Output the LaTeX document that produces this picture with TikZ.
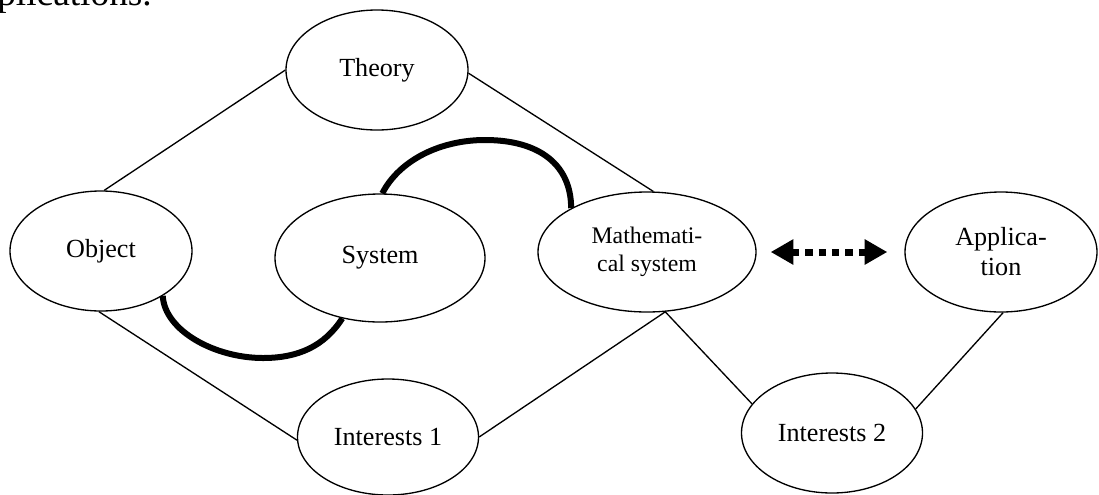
\documentclass[tikz,border=0pt]{standalone}
\usepackage{fontspec}
\setmainfont{Liberation Serif}
\usetikzlibrary{shapes.geometric,arrows.meta}
\newcommand{\ovalfont}{\fontsize{19.6pt}{22.5pt}\selectfont}
\newcommand{\mathsysfont}{\fontsize{17.8pt}{21pt}\selectfont}
\newcommand{\headfont}{\fontsize{28pt}{33pt}\selectfont}

\begin{document}
\begin{tikzpicture}[x=0.75pt, y=-0.75pt,
    oval/.style={ellipse, draw, line width=1pt, inner sep=0pt, align=center, font=\ovalfont},
    link/.style={line width=1pt},
    bond/.style={line width=4.5pt},
    pair/.style={line width=5.25pt, dash pattern=on 5.5pt off 4.5pt,
        >={Triangle[length=17pt,width=18pt]}, <->}]
    \useasboundingbox (0,0) rectangle (1099,494);
    % cut-off line of text above
    \node[anchor=base west, inner sep=0pt, font=\headfont] (head) at (-3,5) {plications.};
    % ovals
    \node[oval, minimum width=136.5pt, minimum height=90pt] (theory) at (377,70) {Theory};
    \node[oval, minimum width=136.5pt, minimum height=90pt] (obj) at (101,251) {Object};
    \node[oval, minimum width=157.5pt, minimum height=96pt] (sys) at (380,258) {System};
    \node[oval, minimum width=163.5pt, minimum height=90pt, font=\mathsysfont] (mathsys) at (647,252) {Mathemati-\\cal system};
    \node[oval, minimum width=144pt, minimum height=90pt] (app) at (1001,252) {Applica-\\tion};
    \node[oval, minimum width=135.75pt, minimum height=87pt] (int1) at (388,437) {Interests 1};
    \node[oval, minimum width=135.75pt, minimum height=90pt] (int2) at (832,433) {Interests 2};
    % thin links
    \draw[link] (obj.87) -- (theory.180);
    \draw[link] (theory.-2) -- (mathsys.84);
    \draw[link] (obj.-92) -- (int1.182);
    \coordinate (foot) at (mathsys.-73);
    \draw[link] (int1.0) -- (foot) -- (int2.160);
    \draw[link] (app.-88) -- (int2.16);
    % thick bonds
    \coordinate (low) at (263,358);
    \coordinate (crest) at (485,140);
    \draw[bond] (obj.-36) .. controls +(2,35) and +(-48,0) .. (low)
        .. controls +(35,0) and +(-18,28) .. (sys.-122);
    \draw[bond] (sys.88) .. controls +(17,-33) and +(-45,0) .. (crest)
        .. controls +(55,0) and +(0,-43) .. (mathsys.150);
    % dotted double arrow
    \draw[pair, shorten <=10.5pt, shorten >=12.75pt] (mathsys.east) -- (app.west);
\end{tikzpicture}
\end{document}
